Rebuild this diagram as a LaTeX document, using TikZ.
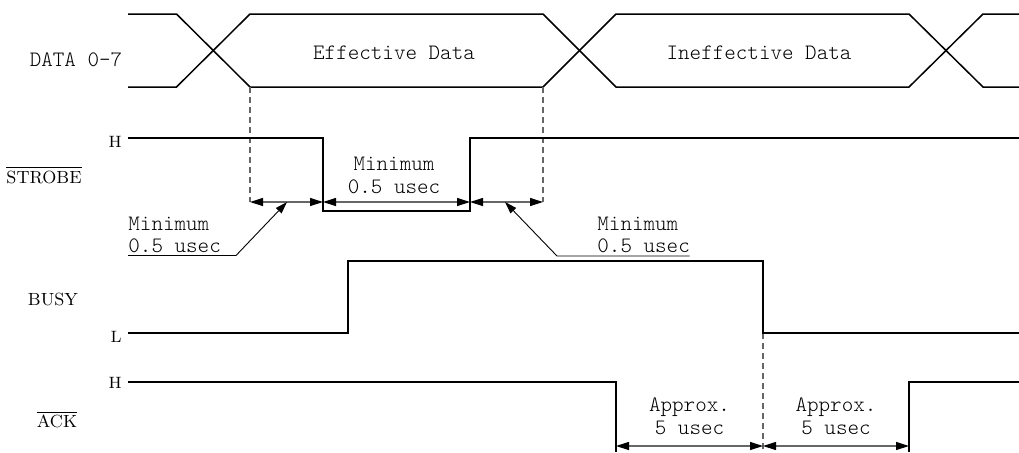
\documentclass[tikz,border=0pt]{standalone}
\usetikzlibrary{arrows.meta}
\begin{document}
\begin{tikzpicture}[x=0.5pt,y=-0.5pt,
  wave/.style={line width=0.9pt, line join=miter},
  bus/.style={line width=0.75pt, line join=miter},
  guide/.style={black!60, line width=0.55pt, dash pattern=on 3pt off 2pt},
  dim/.style={black!60, line width=0.6pt,
    {Triangle[length=6.5pt,width=4pt,color=black]}-{Triangle[length=6.5pt,width=4pt,color=black]}},
  leader/.style={line width=0.45pt, -{Triangle[length=6pt,width=3.8pt]}},
  mono/.style={font=\fontseries{l}\ttfamily\fontsize{11}{11}\selectfont,
    inner sep=0pt, text height=6.8pt, text depth=0pt},
  sig/.style={font=\fontsize{8.8}{8.8}\selectfont, inner sep=0pt, anchor=base},
  lvl/.style={font=\fontsize{8.2}{8.2}\selectfont, inner sep=0pt, anchor=base east},
]
\useasboundingbox (0,0) rectangle (1019,452);

% ---- key instants ----
\coordinate (dA) at (250,202);   % data valid
\coordinate (sF) at (323,202);   % strobe falls
\coordinate (sR) at (470,202);   % strobe rises
\coordinate (dB) at (543,202);   % data may change
\coordinate (aF) at (616,446);   % ack falls
\coordinate (bF) at (763,446);   % busy falls
\coordinate (aR) at (909,446);   % ack rises

% ---- DATA 0-7 bus ----
\draw[bus] (128,14) -- (176.5,14) -- (250,87) -- (543,87) -- (616,14)
  -- (909,14) -- (983,87) -- (1019,87);
\draw[bus] (128,87) -- (176.5,87) -- (250,14) -- (543,14) -- (616,87)
  -- (909,87) -- (983,14) -- (1019,14);
\node[mono] (lblData) at (76,60) {DATA 0-7};
\node[mono] (effData) at (394,52.5) {Effective Data};
\node[mono] (ineffData) at (759,52.5) {Ineffective Data};

% ---- guide lines ----
\draw[guide] (250,87) -- (dA);
\draw[guide] (543,87) -- (dB);
\draw[guide] (763,333) -- (763,452);

% ---- STROBE ----
\draw[wave] (128,138) -- (323,138) -- (323,211) -- (470,211) -- (470,138) -- (1019,138);
\node[sig] (lblStrobe) at (44,183) {$\overline{\hbox{STROBE}}$};
\node[lvl] (strobeH) at (122,147) {H};

\draw[dim] (dA) -- (sF);
\draw[dim] (sF) -- (sR);
\draw[dim] (sR) -- (dB);
\node[mono] (minMid1) at (394,164) {Minimum};
\node[mono] (minMid2) at (394,186.7) {0.5 usec};

% setup-time callout
\coordinate (lk1) at (236,255.5);
\coordinate (lt1) at (287,202);
\draw[leader] (128,255.5) -- (lk1) -- (lt1);
\node[mono, anchor=west] (minL1) at (128,223.3) {Minimum};
\node[mono, anchor=west] (minL2) at (128,245.5) {0.5 usec};

% hold-time callout
\coordinate (lk2) at (557,256);
\coordinate (lt2) at (505,202);
\draw[leader] (689.5,256) -- (lk2) -- (lt2);
\node[mono, anchor=west] (minR1) at (597,223.3) {Minimum};
\node[mono, anchor=west] (minR2) at (597,245.5) {0.5 usec};

% ---- BUSY ----
\draw[wave] (128,333) -- (348,333) -- (348,261) -- (763,261) -- (763,333) -- (1019,333);
\node[sig] (lblBusy) at (53,305.5) {BUSY};
\node[lvl] (busyL) at (122,342) {L};

% ---- ACK ----
\draw[wave] (128,382) -- (616,382) -- (616,452);
\draw[wave] (909,452) -- (909,382) -- (1019,382);
\node[sig] (lblAck) at (57,427.5) {$\overline{\hbox{ACK}}$};
\node[lvl] (ackH) at (122,388) {H};

\draw[dim] (aF) -- (bF);
\draw[dim] (bF) -- (aR);
\node[mono] (apxL1) at (689.5,405) {Approx.};
\node[mono] (apxL2) at (689.5,428) {5 usec};
\node[mono] (apxR1) at (836,405) {Approx.};
\node[mono] (apxR2) at (836,428) {5 usec};
\end{tikzpicture}
\end{document}
